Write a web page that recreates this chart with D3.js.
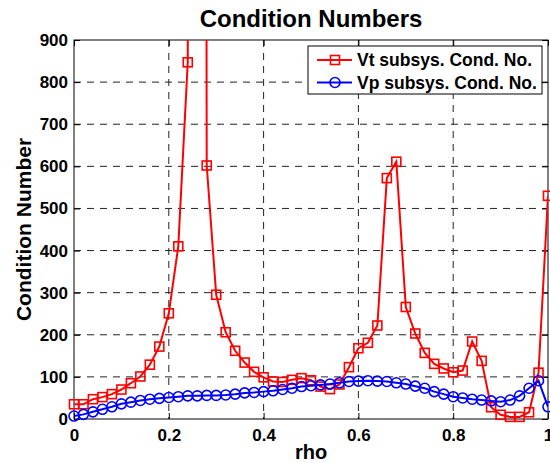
<!DOCTYPE html>
<html>
<head>
<meta charset="utf-8">
<script src="https://cdnjs.cloudflare.com/ajax/libs/d3/7.8.5/d3.min.js"></script>
<style>
  body { margin: 0; background: #fff; }
  svg { display: block; font-family: "Liberation Sans", Arial, Helvetica, sans-serif; font-weight: bold; }
</style>
</head>
<body>
<svg id="chart" width="550" height="463"></svg>
<script>
// rho values (x)
const rho = [0, 0.02, 0.04, 0.06, 0.08, 0.10, 0.12, 0.14, 0.16, 0.18,
  0.20, 0.22, 0.24, 0.26, 0.28, 0.30, 0.32, 0.34, 0.36, 0.38,
  0.40, 0.42, 0.44, 0.46, 0.48, 0.50, 0.52, 0.54, 0.56, 0.58,
  0.60, 0.62, 0.64, 0.66, 0.68, 0.70, 0.72, 0.74, 0.76, 0.78,
  0.80, 0.82, 0.84, 0.86, 0.88, 0.90, 0.92, 0.94, 0.96, 0.98, 1.00];

// Vt subsystem condition numbers (0.26 goes far off the top)
const vtCond = [35, 35, 47, 52, 59, 70, 85, 101, 129, 172,
  251, 410, 847, 15000, 602, 295, 206, 162, 134, 112,
  99, 89, 88, 93, 97, 92, 77, 71, 82, 123,
  168, 181, 222, 572, 611, 266, 203, 157, 131, 120,
  111, 115, 184, 138, 28, 10, 5, 5, 16, 110, 530];

// Vp subsystem condition numbers
const vpCond = [7, 11, 17, 23, 29, 36, 40, 44, 47, 49,
  51, 53, 55, 55, 56, 56, 57, 59, 62, 63,
  65, 67, 70, 73, 77, 79, 81, 83, 86, 89,
  90, 91, 90, 89, 86, 83, 78, 73, 65, 59,
  53, 50, 47, 45, 43, 41, 45, 55, 73, 91, 29];

const xTicks = [0, 0.2, 0.4, 0.6, 0.8, 1];
const yTicks = [0, 100, 200, 300, 400, 500, 600, 700, 800, 900];
const legendLabels = ["Vt subsys. Cond. No.", "Vp subsys. Cond. No."];

let margin = { top: 40, right: 2, bottom: 44, left: 74 },
  width = 550 - margin.left - margin.right,
  height = 463 - margin.top - margin.bottom;

let svg = d3.select("#chart");
let chart = svg.append("g")
  .attr("transform", "translate(" + margin.left + "," + margin.top + ")");

let xScale = d3.scaleLinear().domain([0, 1]).range([0, width]);
let yScale = d3.scaleLinear().domain([0, 900]).range([height, 0]);

// clip for the lines
svg.append("defs").append("clipPath").attr("id", "plotclip")
  .append("rect").attr("width", width).attr("height", height);

// dashed grid
chart.append("g").selectAll("line").data(xTicks.slice(1, -1)).enter().append("line")
  .attr("x1", d => xScale(d)).attr("x2", d => xScale(d))
  .attr("y1", 0).attr("y2", height)
  .attr("stroke", "#222").attr("stroke-dasharray", "7,6");
chart.append("g").selectAll("line").data(yTicks.slice(1, -1)).enter().append("line")
  .attr("y1", d => yScale(d)).attr("y2", d => yScale(d))
  .attr("x1", 0).attr("x2", width)
  .attr("stroke", "#222").attr("stroke-dasharray", "7,6");

// axes (ticks inside, like matlab)
let xAxis = chart.append("g")
  .attr("transform", "translate(0," + height + ")")
  .call(d3.axisBottom(xScale).tickValues(xTicks).tickFormat(d3.format("")).tickSizeInner(-6).tickSizeOuter(0).tickPadding(10));
let yAxis = chart.append("g")
  .call(d3.axisLeft(yScale).tickValues(yTicks).tickSizeInner(-6).tickSizeOuter(0).tickPadding(6));
chart.append("g")
  .call(d3.axisTop(xScale).tickValues(xTicks).tickFormat("").tickSizeInner(-6).tickSizeOuter(0));
chart.append("g")
  .attr("transform", "translate(" + width + ",0)")
  .call(d3.axisRight(yScale).tickValues(yTicks).tickFormat("").tickSizeInner(-6).tickSizeOuter(0));

chart.selectAll(".domain").remove();
chart.selectAll(".tick line").attr("stroke", "#000");
chart.selectAll(".tick text").attr("fill", "#000").style("font-size", "17px").style("font-weight", "bold");

// box
chart.append("rect")
  .attr("width", width).attr("height", height)
  .attr("fill", "none").attr("stroke", "#000").attr("stroke-width", 1);

let line = d3.line()
  .x((d, i) => xScale(rho[i]))
  .y(d => yScale(d));

// Vt series
chart.append("path").datum(vtCond)
  .attr("clip-path", "url(#plotclip)")
  .attr("d", line).attr("fill", "none").attr("stroke", "#ff0000").attr("stroke-width", 2);
chart.append("g").selectAll("rect").data(vtCond).enter().append("rect")
  .attr("x", (d, i) => xScale(rho[i]) - 4.5)
  .attr("y", d => yScale(d) - 4.5)
  .attr("width", 9).attr("height", 9)
  .attr("fill", "none").attr("stroke", "#ff0000").attr("stroke-width", 1.6);

// Vp series
chart.append("path").datum(vpCond)
  .attr("clip-path", "url(#plotclip)")
  .attr("d", line).attr("fill", "none").attr("stroke", "#0000ff").attr("stroke-width", 2);
chart.append("g").selectAll("circle").data(vpCond).enter().append("circle")
  .attr("cx", (d, i) => xScale(rho[i]))
  .attr("cy", d => yScale(d))
  .attr("r", 5)
  .attr("fill", "none").attr("stroke", "#0000ff").attr("stroke-width", 1.6);

// title and labels
svg.append("text").attr("x", margin.left + width / 2).attr("y", 27)
  .attr("text-anchor", "middle").style("font-size", "24px").text("Condition Numbers");
svg.append("text").attr("x", margin.left + width / 2).attr("y", 459)
  .attr("text-anchor", "middle").style("font-size", "20px").text("rho");
svg.append("text")
  .attr("transform", "translate(31," + (margin.top + height / 2) + ") rotate(-90)")
  .attr("text-anchor", "middle").style("font-size", "21px").text("Condition Number");

// legend
let legend = svg.append("g").attr("transform", "translate(308,46)");
legend.append("rect").attr("width", 234).attr("height", 48)
  .attr("fill", "#fff").attr("stroke", "#000");
let colors = ["#ff0000", "#0000ff"];
legendLabels.forEach(function (lab, i) {
  let cy = 14 + i * 22.5;
  legend.append("line").attr("x1", 9).attr("x2", 44).attr("y1", cy).attr("y2", cy)
    .attr("stroke", colors[i]).attr("stroke-width", 2);
  if (i == 0) {
    legend.append("rect").attr("x", 27 - 4.5).attr("y", cy - 4.5).attr("width", 9).attr("height", 9)
      .attr("fill", "none").attr("stroke", colors[i]).attr("stroke-width", 1.6);
  } else {
    legend.append("circle").attr("cx", 27).attr("cy", cy).attr("r", 5)
      .attr("fill", "none").attr("stroke", colors[i]).attr("stroke-width", 1.6);
  }
  legend.append("text").attr("x", 49).attr("y", cy + 6)
    .style("font-size", "17.5px").text(lab);
});
</script>
</body>
</html>
